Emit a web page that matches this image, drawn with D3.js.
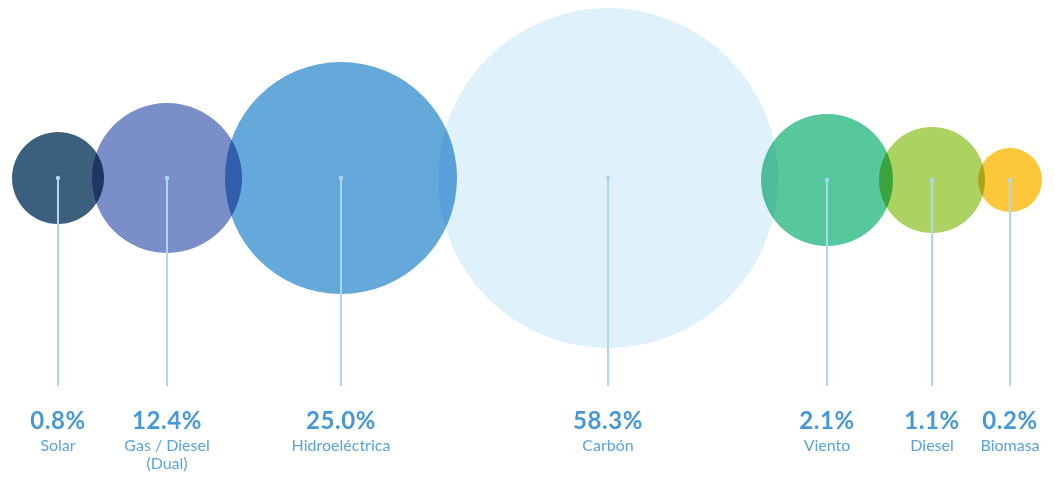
<!DOCTYPE html>
<html>
<head>
<meta charset="utf-8">
<script src="https://cdn.jsdelivr.net/npm/d3@7"></script>
<style>
  body { margin: 0; background: #fff; }
  text { font-family: Lato, "Noto Sans", sans-serif; }
</style>
</head>
<body>
<svg class="chart"></svg>
<script>
var width = 1055, height = 480;

// data
var categories = ["Solar", "Gas / Diesel|(Dual)", "Hidroeléctrica", "Carbón", "Viento", "Diesel", "Biomasa"];
var shares = [0.8, 12.4, 25.0, 58.3, 2.1, 1.1, 0.2];

var chart = d3.select(".chart")
    .attr("width", width)
    .attr("height", height);

// bubble sizes in the original are decorative, not proportional to the share
var r_scale = d3.scaleOrdinal()
    .domain(categories)
    .range([46, 75, 116, 170, 66, 53, 32]);

var color = d3.scaleOrdinal()
    .domain(categories)
    .range(["#3d5f7e", "#7a8fc8", "#65a9db", "#dff1fb", "#57c79c", "#acd262", "#fdc73c"]);

var cy_scale = d3.scaleOrdinal()
    .domain(categories)
    .range([178, 178, 178, 178, 180, 180, 180]);

// pack the bubbles left to right with a small overlap
var overlaps = [0, 12, 17, 19, 17, 14, 7];
var xs = [], cur = 12;
categories.forEach(function(c, i) {
    var r = r_scale(c);
    if (i > 0) cur = cur - overlaps[i];
    xs.push(cur + r);
    cur = cur + 2 * r;
});
var x_scale = d3.scaleOrdinal().domain(categories).range(xs);

var y_scale = d3.scaleLinear()
    .domain([0, 1])
    .range([178, 386]);

var bubbles = chart.append("g");

bubbles.selectAll("circle")
    .data(categories)
    .enter().append("circle")
    .attr("cx", function(d) { return x_scale(d); })
    .attr("cy", function(d) { return cy_scale(d); })
    .attr("r", function(d) { return r_scale(d); })
    .attr("fill", function(d) { return color(d); })
    .style("mix-blend-mode", "multiply");

var item = chart.append("g").selectAll("g")
    .data(categories)
    .enter().append("g")
    .attr("transform", function(d) { return "translate(" + x_scale(d) + ",0)"; });

item.append("line")
    .attr("x1", 0).attr("x2", 0)
    .attr("y1", function(d) { return cy_scale(d); })
    .attr("y2", y_scale(1))
    .attr("stroke", "#acd6f2")
    .attr("stroke-width", 2);

item.append("circle")
    .attr("cy", function(d) { return cy_scale(d); })
    .attr("r", 2.2)
    .attr("fill", "#acd6f2");

item.append("text")
    .attr("y", 429)
    .attr("text-anchor", "middle")
    .attr("fill", "#4798d6")
    .attr("font-size", 24)
    .attr("font-weight", "bold")
    .attr("letter-spacing", 0.6)
    .text(function(d, i) { return shares[i].toFixed(1) + "%"; });

item.append("text")
    .attr("text-anchor", "middle")
    .attr("fill", "#5aa3dc")
    .attr("font-size", 16)
    .selectAll("tspan")
    .data(function(d) { return d.split("|"); })
    .enter().append("tspan")
    .attr("x", 0)
    .attr("y", function(d, i) { return 451 + i * 18; })
    .text(function(d) { return d; });
</script>
</body>
</html>
